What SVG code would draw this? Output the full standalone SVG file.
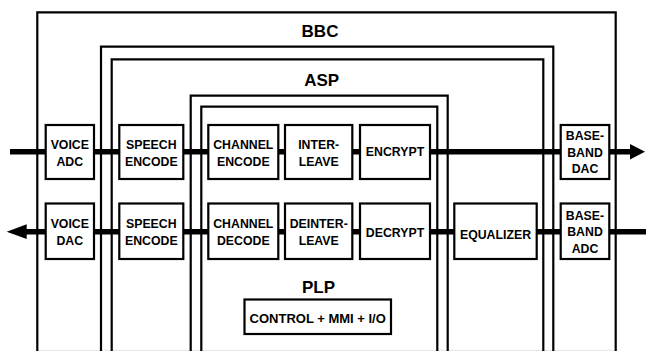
<svg xmlns="http://www.w3.org/2000/svg" width="646" height="351" viewBox="0 0 646 351">
<style>
.frame{fill:none;stroke:#000;stroke-width:2.2}
.box{fill:#fff;stroke:#000;stroke-width:2.2}
.t{font-family:"Liberation Sans",Arial,sans-serif;font-weight:bold;font-size:12.3px;text-anchor:middle;fill:#000}
.h{font-family:"Liberation Sans",Arial,sans-serif;font-weight:bold;font-size:17px;text-anchor:middle;fill:#000}
.wire{stroke:#000;stroke-width:5.5;fill:none}
</style>
<rect width="646" height="351" fill="#fff"/>
<line x1="38" y1="350.3" x2="615" y2="350.3" stroke="#e4e4e4" stroke-width="1"/>
<g id="bbc">
<path class="frame" d="M37.3,352 V12.3 H615.7 V352"/>
<text class="h" x="320" y="36.7">BBC</text>
</g>
<g id="asp">
<path class="frame" d="M101,352 V46.7 H553.3 V352"/>
<path class="frame" d="M111.7,352 V59.3 H543.3 V352"/>
<text class="h" x="321.7" y="86">ASP</text>
</g>
<g id="plp">
<path class="frame" d="M190.7,352 V95.7 H447.7 V352"/>
<path class="frame" d="M201.3,352 V106.7 H437.3 V352"/>
<text class="h" x="318.5" y="292.7">PLP</text>
</g>
<g id="connectors">
<line class="wire" x1="10" y1="151.7" x2="631" y2="151.7"/>
<polygon points="630,144 645,151.7 630,159.4" fill="#000"/>
<line class="wire" x1="25" y1="231.7" x2="646" y2="231.7"/>
<polygon points="26.7,224.3 6.7,231.7 26.7,239.1" fill="#000"/>
</g>
<g id="voice-adc">
<rect class="box" x="45.7" y="125" width="48.3" height="54"/>
<text class="t" x="69.8" y="149">VOICE</text>
<text class="t" x="69.8" y="165.6">ADC</text>
</g>
<g id="speech-encode-top">
<rect class="box" x="119.3" y="125" width="64" height="54"/>
<text class="t" x="151.3" y="149">SPEECH</text>
<text class="t" x="151.3" y="165.6">ENCODE</text>
</g>
<g id="channel-encode">
<rect class="box" x="208.3" y="125" width="70" height="54"/>
<text class="t" x="243.3" y="149">CHANNEL</text>
<text class="t" x="243.3" y="165.6">ENCODE</text>
</g>
<g id="interleave">
<rect class="box" x="285" y="125" width="67.3" height="54"/>
<text class="t" x="318.7" y="149">INTER-</text>
<text class="t" x="318.7" y="165.6">LEAVE</text>
</g>
<g id="encrypt">
<rect class="box" x="360" y="125" width="70" height="54"/>
<text class="t" x="395" y="156">ENCRYPT</text>
</g>
<g id="baseband-dac">
<rect class="box" x="560.7" y="125" width="48.6" height="54"/>
<text class="t" x="585" y="140">BASE-</text>
<text class="t" x="585" y="156.5">BAND</text>
<text class="t" x="585" y="172.6">DAC</text>
</g>
<g id="voice-dac">
<rect class="box" x="45.7" y="203.5" width="48.3" height="55.5"/>
<text class="t" x="69.8" y="228">VOICE</text>
<text class="t" x="69.8" y="244.5">DAC</text>
</g>
<g id="speech-encode-bottom">
<rect class="box" x="119.3" y="203.5" width="64" height="55.5"/>
<text class="t" x="151.3" y="228">SPEECH</text>
<text class="t" x="151.3" y="244.5">ENCODE</text>
</g>
<g id="channel-decode">
<rect class="box" x="208.3" y="203.5" width="70" height="55.5"/>
<text class="t" x="243.3" y="228">CHANNEL</text>
<text class="t" x="243.3" y="244.5">DECODE</text>
</g>
<g id="deinterleave">
<rect class="box" x="285" y="203.5" width="67.3" height="55.5"/>
<text class="t" x="318.7" y="228">DEINTER-</text>
<text class="t" x="318.7" y="244.5">LEAVE</text>
</g>
<g id="decrypt">
<rect class="box" x="360" y="203.5" width="70" height="55.5"/>
<text class="t" x="395" y="236.7">DECRYPT</text>
</g>
<g id="equalizer">
<rect class="box" x="454.3" y="203.5" width="82.4" height="55.5"/>
<text class="t" x="495.5" y="238.8">EQUALIZER</text>
</g>
<g id="baseband-adc">
<rect class="box" x="560.7" y="203.5" width="48.6" height="55.5"/>
<text class="t" x="585" y="220">BASE-</text>
<text class="t" x="585" y="235.8">BAND</text>
<text class="t" x="585" y="252.5">ADC</text>
</g>
<g id="control">
<rect class="box" x="244.5" y="299.5" width="146.5" height="34.5"/>
<text class="t" x="317.7" y="323.3" style="font-size:13px">CONTROL + MMI + I/O</text>
</g>
</svg>
